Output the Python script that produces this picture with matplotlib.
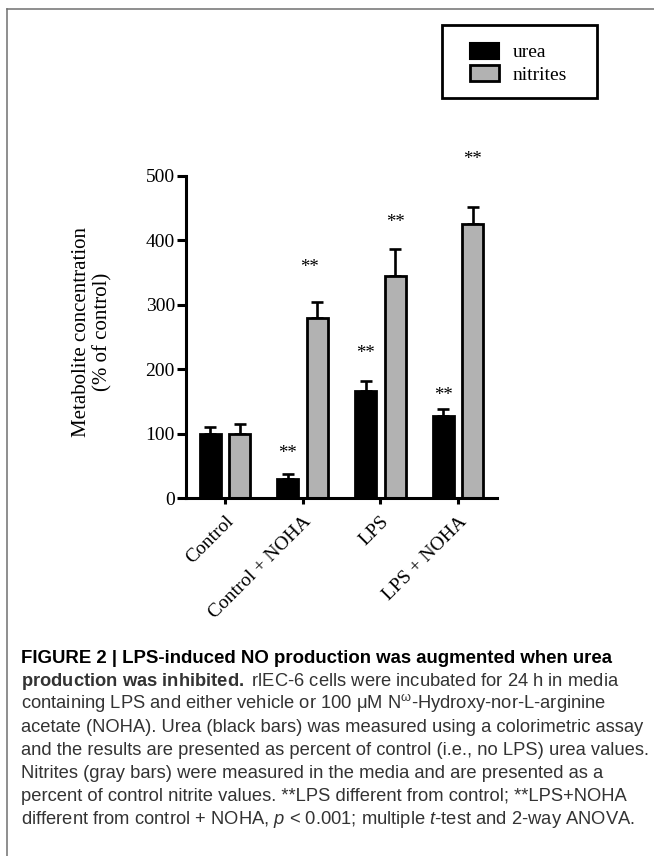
import numpy as np
import matplotlib
matplotlib.use("Agg")
import matplotlib.pyplot as plt
from matplotlib.patches import Patch, Rectangle
from matplotlib.lines import Line2D

plt.rcParams['mathtext.fontset'] = 'custom'
plt.rcParams['mathtext.rm'] = 'Liberation Sans'
plt.rcParams['mathtext.it'] = 'Liberation Sans:italic'
plt.rcParams['mathtext.bf'] = 'Liberation Sans:bold'

# ---- data ----
categories = ["Control", "Control + NOHA", "LPS", "LPS + NOHA"]
urea = [100, 30, 167, 128]
urea_err = [10, 8, 15, 10]
nitrites = [100, 280, 344, 425]
nitrites_err = [15, 25, 43, 26]
yticks = [0, 100, 200, 300, 400, 500]
# significance marks ("**") label heights, None = no mark
sig_urea_y = [None, 62, 217, 152]
sig_nitr_y = [None, 351, 421, 518]

W, H = 654, 856
fig = plt.figure(figsize=(W / 100, H / 100), dpi=100)
fig.patch.set_facecolor('white')

ax = fig.add_axes([186 / W, 1 - 498.3 / H, (497 - 186) / W, 322.6 / H])
x = np.arange(len(categories))
off = 0.19
bw = 0.27
gray = '#b2b2b2'
serif = 'Liberation Serif'

ax.bar(x - off, urea, bw, color='black', edgecolor='black', linewidth=2, zorder=2)
ax.bar(x + off, nitrites, bw, color=gray, edgecolor='black', linewidth=2, zorder=2)
ax.errorbar(x - off, urea, yerr=[np.zeros(4), urea_err], fmt='none', ecolor='black',
            elinewidth=1.9, capsize=4.2, capthick=1.9, zorder=1)
ax.errorbar(x + off, nitrites, yerr=[np.zeros(4), nitrites_err], fmt='none', ecolor='black',
            elinewidth=1.9, capsize=4.2, capthick=1.9, zorder=1)

for i in range(4):
    if sig_urea_y[i] is not None:
        ax.text(x[i] - off, sig_urea_y[i], "**", ha='center', va='baseline',
                fontsize=13.5, family=serif, clip_on=False)
    if sig_nitr_y[i] is not None:
        dx = -0.1 if i == 1 else 0.0
        ax.text(x[i] + off + dx, sig_nitr_y[i], "**", ha='center', va='baseline',
                fontsize=13.5, family=serif, clip_on=False)

ax.set_xlim(-0.5, 3.5)
ax.set_ylim(0, 500)
ax.set_yticks(yticks)
ax.set_yticklabels([str(v) for v in yticks], family=serif, fontsize=14)
ax.set_xticks(x)
ax.set_xticklabels(categories, family=serif, fontsize=14, rotation=45,
                   ha='right', va='top', rotation_mode='anchor')
for s in ['top', 'right']:
    ax.spines[s].set_visible(False)
for s in ['left', 'bottom']:
    ax.spines[s].set_linewidth(2.2)
ax.tick_params(axis='y', direction='out', length=6.5, width=2.2, pad=1.5)
ax.tick_params(axis='x', direction='out', length=4.5, width=2.2, pad=6)

ax.set_ylabel("Metabolite concentration\n(% of control)", family=serif, fontsize=15,
              linespacing=1.12, va='center')
ax.yaxis.set_label_coords((92 - 186) / 311, (498.3 - 332) / 322.6)

# legend
handles = [Patch(facecolor='black', edgecolor='black', linewidth=1.5),
           Patch(facecolor=gray, edgecolor='black', linewidth=2)]
leg = fig.legend(handles, ["urea", "nitrites"], loc='upper left',
                 bbox_to_anchor=(470 / W, 1 - 42.5 / H), frameon=False,
                 prop={'family': serif, 'size': 14}, borderpad=0,
                 handlelength=1.51, handleheight=0.9, handletextpad=0.69,
                 labelspacing=0.2, borderaxespad=0)
fig.add_artist(Rectangle((441.7 / W, 1 - 97.7 / H), (596.7 - 441.7) / W, (97.7 - 25) / H,
                         transform=fig.transFigure, fill=False, edgecolor='black',
                         linewidth=2))

# frame lines
fig.add_artist(Line2D([7 / W, 1], [1 - 8.5 / H, 1 - 8.5 / H], transform=fig.transFigure,
                      color='#707070', linewidth=1.1))
fig.add_artist(Line2D([7 / W, 7 / W], [0, 1 - 8.5 / H], transform=fig.transFigure,
                      color='#707070', linewidth=1.1))

# caption
cap = [
    (r"FIGURE 2 | LPS-induced NO production was augmented when urea", 'bold'),
    (r"$\mathbf{production\ was\ inhibited.}$ rlEC-6 cells were incubated for 24 h in media", 'normal'),
    (r"containing LPS and either vehicle or 100 μM $\mathrm{N}^{\mathrm{ω}}$-Hydroxy-nor-L-arginine", 'normal'),
    (r"acetate (NOHA). Urea (black bars) was measured using a colorimetric assay", 'normal'),
    (r"and the results are presented as percent of control (i.e., no LPS) urea values.", 'normal'),
    (r"Nitrites (gray bars) were measured in the media and are presented as a", 'normal'),
    (r"percent of control nitrite values. **LPS different from control; **LPS+NOHA", 'normal'),
    (r"different from control + NOHA, $p$ < 0.001; multiple $t$-test and 2-way ANOVA.", 'normal'),
]
y0 = 663.3
pitch = 23.0
for k, (line, wt) in enumerate(cap):
    bold = wt == 'bold'
    fig.text(21 / W, 1 - (y0 + k * pitch) / H, line, fontsize=13.4 if bold else 13.2,
             family='Liberation Sans', fontweight=wt, va='baseline', ha='left',
             color='black' if bold else '#333333')

fig.savefig("out.png", dpi=100)
